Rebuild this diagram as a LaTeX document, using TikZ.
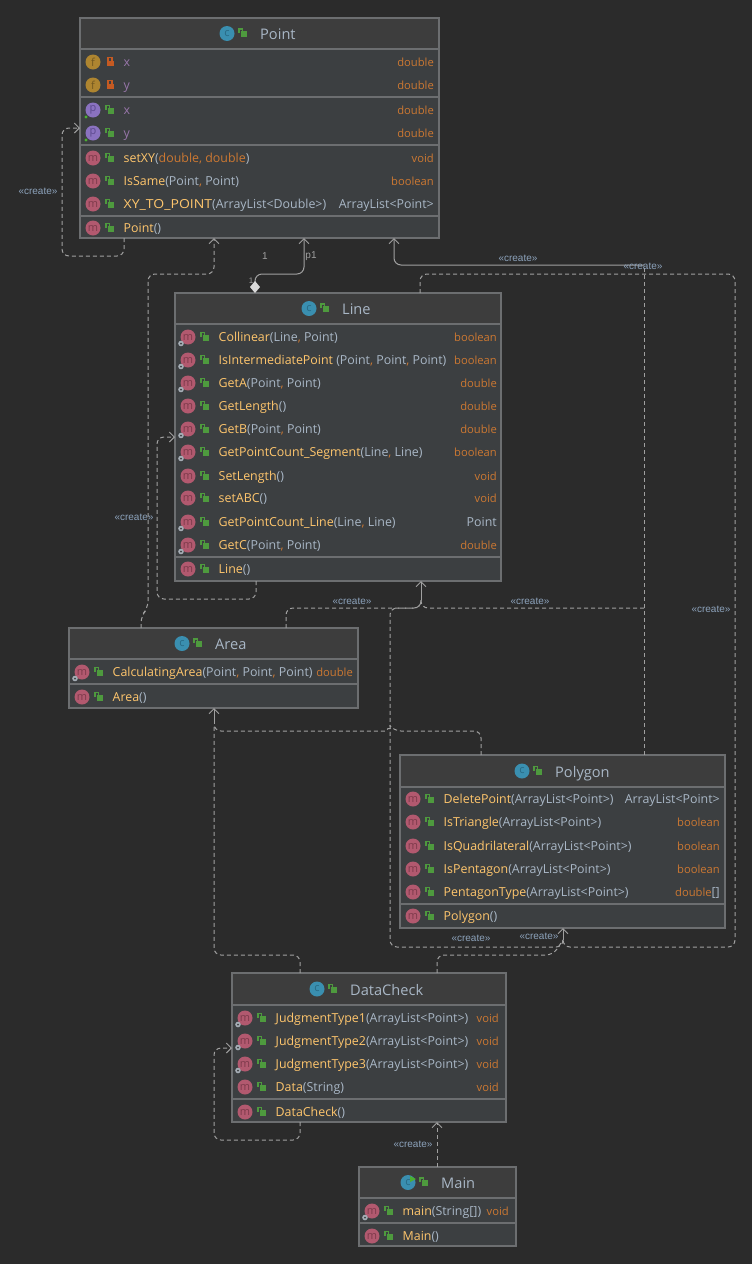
\documentclass[tikz,border=0pt]{standalone}
\usepackage{fontspec}
\setmainfont{Open Sans}
\newfontfamily\labelfont{Liberation Sans}
\usetikzlibrary{arrows.meta}

\definecolor{canvas}{HTML}{2B2B2B}
\definecolor{bodyfill}{HTML}{3C3F41}
\definecolor{titlefill}{HTML}{3D3D3D}
\definecolor{frameline}{HTML}{6C6E70}
\definecolor{connline}{HTML}{A0A0A0}
\definecolor{methodname}{HTML}{FFC66D}
\definecolor{paramtext}{HTML}{A9B7C6}
\definecolor{rettext}{HTML}{CC7832}
\definecolor{fieldtext}{HTML}{9876AA}
\definecolor{labeltext}{HTML}{8DA3BC}
\definecolor{mfill}{HTML}{B2596F}
\definecolor{mtext}{HTML}{7D3A4B}
\definecolor{cfill}{HTML}{3A8FB0}
\definecolor{ctext}{HTML}{286A85}
\definecolor{ffill}{HTML}{AE8530}
\definecolor{ftext}{HTML}{735820}
\definecolor{pfill}{HTML}{8A72C0}
\definecolor{ptext}{HTML}{5D4A8E}
\definecolor{lockgreen}{HTML}{4E9A3E}
\definecolor{lockred}{HTML}{C55A22}
\definecolor{gearcol}{HTML}{A5ADB5}
\definecolor{dotgreen}{HTML}{4CB030}

\tikzset{
  classbox/.style={draw=frameline,line width=1.4pt,fill=bodyfill,anchor=north west,inner sep=0pt,outer sep=0pt},
  divider/.style={draw=frameline,line width=1.5pt},
  titletext/.style={anchor=base west,inner sep=0pt,font=\fontsize{14.6}{18}\selectfont,text=paramtext},
  rowtext/.style={anchor=base west,inner sep=0pt,font=\fontsize{12.4}{14}\selectfont,text=paramtext},
  rettextnode/.style={anchor=base east,inner sep=0pt,font=\fontsize{11.2}{14}\selectfont,text=rettext},
  badge/.style={circle,minimum size=15pt,inner sep=0pt,font=\fontsize{11}{12}\selectfont},
  conn/.style={draw=connline,line width=1pt,rounded corners=7pt},
  depline/.style={conn,dash pattern=on 4pt off 3pt},
  dep/.style={depline,-{Straight Barb[length=5pt,width=10pt,line width=1pt]}},
  assoc/.style={conn,-{Straight Barb[length=5pt,width=10pt,line width=1pt]}},
  stereo/.style={inner sep=0pt,text=labeltext,font=\labelfont\fontsize{10}{12}\selectfont},
  multi/.style={inner sep=0pt,text=connline,font=\labelfont\fontsize{10}{12}\selectfont},
}

\newcounter{itemc}
\newcommand{\badgeat}[4]{\stepcounter{itemc}%
  \node[badge,fill=#3fill,text=#3text] (b\theitemc) at (#1,#2) {#4};}
\newcommand{\openlock}[2]{\begin{scope}[shift={(#1,#2)}]
  \fill[lockgreen] (-2.5,-2.5) rectangle (4,3.5);
  \draw[lockgreen,line width=1.1pt] (-4,-0.5) -- (-4,-4.5) -- (-0.8,-4.5) -- (-0.8,-2.5);
  \end{scope}}
\newcommand{\shutlock}[2]{\begin{scope}[shift={(#1,#2)}]
  \fill[lockred] (-3.5,-1.5) rectangle (3.5,4);
  \draw[lockred,line width=1.1pt] (-2,-1.5) -- (-2,-4.5) -- (2,-4.5) -- (2,-1.5);
  \end{scope}}
\newcommand{\gear}[2]{\begin{scope}[shift={(#1,#2)}]
  \fill[gearcol] (-7,6.5) circle (2.8pt);
  \fill[bodyfill] (-7,6.5) circle (1pt);
  \end{scope}}
\newcommand{\Cm}{{\color{rettext},}\ }
\newcommand{\Or}[1]{{\color{rettext}#1}}
\newcommand{\Ty}[1]{{\fontsize{12.4}{14}\selectfont\color{paramtext}#1}}

% One compartment row of a class; \lx and \rx hold the box edges in use
\newcommand{\mrow}[4]{\stepcounter{itemc}%
  \pgfmathsetmacro\ax{\lx+13}\pgfmathsetmacro\bx{\lx+30}\pgfmathsetmacro\tx{\lx+43.5}%
  \badgeat{\ax}{#1}{m}{m}\openlock{\bx}{#1}%
  \node[rowtext] (t\theitemc) at (\tx,#1+4.5) {{\color{methodname}#2}#3};%
  \node[rettextnode] (v\theitemc) at (\rx,#1+4.5) {#4};}
\newcommand{\srow}[4]{\mrow{#1}{#2}{#3}{#4}\gear{\ax}{#1}}
\newcommand{\frow}[2]{\stepcounter{itemc}%
  \pgfmathsetmacro\ax{\lx+13}\pgfmathsetmacro\bx{\lx+30}\pgfmathsetmacro\tx{\lx+43.5}%
  \badgeat{\ax}{#1}{f}{f}\shutlock{\bx}{#1}%
  \node[rowtext,text=fieldtext] (t\theitemc) at (\tx,#1+4.5) {#2};%
  \node[rettextnode] (v\theitemc) at (\rx,#1+4.5) {double};}
\newcommand{\prow}[2]{\stepcounter{itemc}%
  \pgfmathsetmacro\ax{\lx+13}\pgfmathsetmacro\bx{\lx+30}\pgfmathsetmacro\tx{\lx+43.5}%
  \badgeat{\ax}{#1}{p}{p}\openlock{\bx}{#1}%
  \fill[dotgreen] (\ax-7,#1+7) circle (1.7pt);%
  \node[rowtext,text=fieldtext] (t\theitemc) at (\tx,#1+4.5) {#2};%
  \node[rettextnode] (v\theitemc) at (\rx,#1+4.5) {double};}

% Class frame: name, x0, y0, x1, y1, title rule, other rules, icon x, title
\newcommand{\umlclass}[9]{%
  \pgfmathsetmacro\bw{#4-#2}\pgfmathsetmacro\bh{#5-#3}%
  \node[classbox,minimum width=\bw pt,minimum height=\bh pt] (#1) at (#2,#3) {};%
  \fill[titlefill] (#2+0.7,#3+0.7) rectangle (#4-0.7,#6);%
  \draw[divider] (#2,#6) -- (#4,#6);%
  \foreach \dy in {#7} {\draw[divider] (#2,\dy) -- (#4,\dy);}%
  \pgfmathsetmacro\ty{(#3+#6)/2}%
  \badgeat{#8}{\ty}{c}{c}\pgfmathsetmacro\lkx{#8+16}\openlock{\lkx}{\ty}%
  \stepcounter{itemc}\node[titletext] (h\theitemc) at (#8+33,\ty+6) {#9};%
  \def\lx{#2}\def\rx{#4}}

\begin{document}
\begin{tikzpicture}[x=1pt,y=-1pt]
\useasboundingbox (0,0) rectangle (752,1264);
\fill[canvas] (0,0) rectangle (752,1264);

% Point
\umlclass{point}{80}{18}{439}{238}{49}{97,145,216}{227}{Point}
\def\rx{434}
\frow{62}{x}
\frow{85}{y}
\prow{110}{x}
\prow{133}{y}
\mrow{158}{setXY}{(\Or{double}\Cm\Or{double})}{void}
\mrow{181}{IsSame}{(Point\Cm Point)}{boolean}
\mrow{204}{\scalebox{1.13}[1]{XY\_TO\_POINT}}{(ArrayList<Double>)}{\Ty{ArrayList<Point>}}
\mrow{228}{Point}{()}{}

% Line
\umlclass{line}{175}{293}{501}{581}{324}{557}{309}{Line}
\def\rx{497}
\srow{337}{Collinear}{(Line\Cm Point)}{boolean}
\srow{360}{IsIntermediatePoint}{ (Point\Cm Point\Cm Point)}{boolean}
\srow{383}{GetA}{(Point\Cm Point)}{double}
\mrow{406}{GetLength}{()}{double}
\srow{429}{GetB}{(Point\Cm Point)}{double}
\srow{452}{GetPointCount\_Segment}{(Line\Cm Line)}{boolean}
\mrow{476}{SetLength}{()}{void}
\mrow{498}{setABC}{()}{void}
\srow{522}{GetPointCount\_Line}{(Line\Cm Line)}{\Ty{Point}}
\srow{545}{GetC}{(Point\Cm Point)}{double}
\mrow{569}{Line}{()}{}

% Area
\umlclass{area}{69}{628}{358}{708}{659}{684}{182}{Area}
\def\rx{353}
\srow{672}{CalculatingArea}{(Point\Cm Point\Cm Point)}{double}
\mrow{697}{Area}{()}{}

% Polygon
\umlclass{polygon}{400}{755}{725}{928}{787}{904}{522}{Polygon}
\def\rx{720}
\mrow{799}{DeletePoint}{(ArrayList<Point>)}{\Ty{ArrayList<Point>}}
\mrow{822}{IsTriangle}{(ArrayList<Point>)}{boolean}
\mrow{846}{IsQuadrilateral}{(ArrayList<Point>)}{boolean}
\mrow{869}{IsPentagon}{(ArrayList<Point>)}{boolean}
\mrow{892}{PentagonType}{(ArrayList<Point>)}{double\Ty{[]}}
\mrow{916}{Polygon}{()}{}

% DataCheck
\umlclass{datacheck}{232}{973}{506}{1122}{1005}{1099}{317}{DataCheck}
\def\rx{499}
\srow{1018}{JudgmentType1}{(ArrayList<Point>)}{void}
\srow{1041}{JudgmentType2}{(ArrayList<Point>)}{void}
\srow{1064}{JudgmentType3}{(ArrayList<Point>)}{void}
\mrow{1087}{Data}{(String)}{void}
\mrow{1112}{DataCheck}{()}{}

% Main
\umlclass{mainc}{359}{1167}{516}{1246}{1198}{1223}{408}{Main}
\fill[dotgreen] (410,1176) -- (416,1179) -- (410,1182) -- cycle;
\def\rx{509}
\srow{1211}{main}{(String[])}{void}
\mrow{1236}{Main}{()}{}

% Junctions where several dependencies share one arrow
\coordinate (pointjoin) at (644,265);
\coordinate (linejoin) at (421,600);
\coordinate (areajoin) at (214,724);
\coordinate (polyjoin) at (563,940);

% Shared arrow stubs
\draw[assoc] (pointjoin) -- (394,265) -- ([xshift=314]point.south west);
\draw[assoc] (linejoin) -- ([xshift=246]line.south west);
\draw[assoc] (areajoin) -- ([xshift=145]area.south west);
\draw[assoc] (polyjoin) -- ([xshift=163]polygon.south west);

% Dependencies of each class on itself
\draw[dep] ([xshift=44]point.south west) -- (124,256) -- (62,256) -- (62,128) -- ([yshift=-110]point.north west);
\draw[dep] ([xshift=81]line.south west) -- (256,599) -- (157,599) -- (157,437) -- ([yshift=-144]line.north west);
\draw[dep] ([xshift=68]datacheck.south west) -- (300,1140) -- (214,1140) -- (214,1048) -- ([yshift=-75]datacheck.north west);

% Dependencies on Point
\draw[dep] ([xshift=72]area.north west) -- (141,616) -- (148,608) -- (148,274) -- (214,274) -- ([xshift=134]point.south west);
\draw[assoc,{Diamond[length=12pt,width=10pt,fill=white!85!black,line width=0pt]}-{Straight Barb[length=5pt,width=10pt,line width=1pt]}]
  ([xshift=80]line.north west) -- (255,274) -- (304,274) -- ([xshift=224]point.south west);
\draw[depline] ([xshift=244]polygon.north west) -- (pointjoin);

% Dependencies on Line
\draw[depline] ([xshift=217]area.north west) -- (286,608) -- (421,608) -- (linejoin);
\draw[depline] (644,608) -- (421,608) -- (linejoin);
\draw[depline] (polyjoin) -- (563,947) -- (390,947) -- (390,608) -- (421,608) -- (linejoin);
\draw[depline] ([xshift=245]line.north west) -- (420,274) -- (735,274) -- (735,947) -- (563,947) -- (polyjoin);

% Dependencies on Area
\draw[depline] ([xshift=81]polygon.north west) -- (481,731) -- (394,731) [sharp corners] -- (392,728.5) -- (388,728.5) -- (386,731) [rounded corners=7pt] -- (214,731) -- (areajoin);
\draw[depline] ([xshift=68]datacheck.north west) -- (300,955) -- (214,955) -- (areajoin);

% Remaining dependencies
\draw[depline] ([xshift=205]datacheck.north west) -- (437,955) -- (553,955) -- (polyjoin);
\draw[dep] ([xshift=78]mainc.north west) -- ([xshift=205]datacheck.south west);

% Labels
\node[stereo] (l1) at (38,191) {«create»};
\node[stereo] (l2) at (134,517) {«create»};
\node[stereo] (l3) at (518,258) {«create»};
\node[stereo] (l4) at (643,266) {«create»};
\node[stereo] (l5) at (352,601) {«create»};
\node[stereo] (l6) at (530,601) {«create»};
\node[stereo] (l7) at (711,609) {«create»};
\node[stereo] (l8) at (471,938) {«create»};
\node[stereo] (l9) at (539,936) {«create»};
\node[stereo] (l10) at (413,1144) {«create»};
\node[multi] (m1) at (265,256) {1};
\node[multi] (m2) at (311,256) {p1};
\node[multi,font=\labelfont\fontsize{8}{9}\selectfont] (m3) at (251,281) {1};
\end{tikzpicture}
\end{document}
